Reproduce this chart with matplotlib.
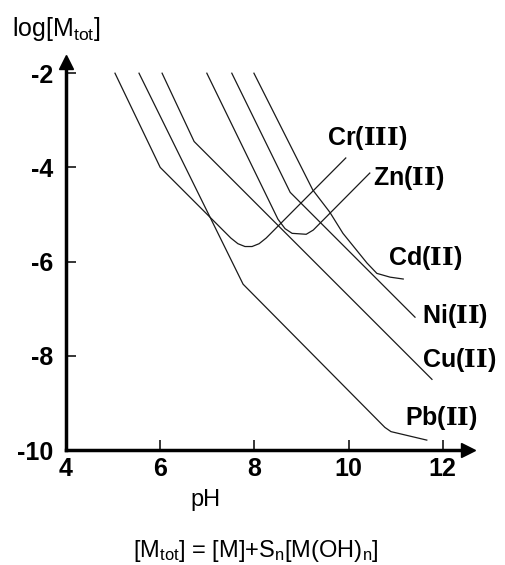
import matplotlib
matplotlib.use("Agg")
import matplotlib.pyplot as plt

plt.rcParams['font.family'] = ['Liberation Sans', 'DejaVu Sans']
plt.rcParams['mathtext.fontset'] = 'custom'
plt.rcParams['mathtext.rm'] = 'Liberation Sans'
plt.rcParams['mathtext.it'] = 'Liberation Sans'
# roman numerals with serifs, as in the original labels
plt.rcParams['mathtext.sf'] = 'DejaVu Serif:bold'

# solubility curves: pH vs log[M_tot]
cr_ph = [5.04, 6.0, 7.5, 7.65, 7.8, 7.95, 8.1, 8.25, 9.94]
cr_log = [-2.0, -4.0, -5.5, -5.62, -5.68, -5.68, -5.62, -5.5, -3.8]

pb_ph = [5.55, 7.76, 10.77, 10.9, 11.66]
pb_log = [-2.0, -6.48, -9.52, -9.61, -9.79]

cu_ph = [6.04, 6.72, 11.77]
cu_log = [-2.0, -3.45, -8.5]

zn_ph = [6.99, 8.5, 8.65, 8.8, 9.1, 9.25, 10.45]
zn_log = [-2.0, -5.1, -5.3, -5.4, -5.42, -5.33, -4.12]

ni_ph = [7.52, 8.76, 11.41]
ni_log = [-2.0, -4.53, -7.18]

cd_ph = [7.99, 9.24, 9.6, 9.88, 10.39, 10.6, 10.88, 11.16]
cd_log = [-2.0, -4.48, -4.95, -5.4, -6.03, -6.25, -6.33, -6.37]

labels = [r'Cr($\mathsf{III}$)', r'Zn($\mathsf{II}$)', r'Cd($\mathsf{II}$)',
          r'Ni($\mathsf{II}$)', r'Cu($\mathsf{II}$)', r'Pb($\mathsf{II}$)']
label_ph = [9.54, 10.52, 10.84, 11.56, 11.56, 11.20]
label_log = [-3.38, -4.23, -5.93, -7.16, -8.09, -9.32]

x_ticks = [4, 6, 8, 10, 12]
y_ticks = [-2, -4, -6, -8, -10]

W, H = 505, 565
fig = plt.figure(figsize=(W / 100, H / 100), dpi=100)
# frame in pixels: x 66..468, y 62..450, 47.1 px per unit
ax = fig.add_axes([66 / W, 1 - 450 / H, (468 - 66) / W, (450 - 62) / H])
ax.set_xlim(4, 4 + (468 - 66) / 47.1)
ax.set_ylim(-10, -10 + (450 - 62) / 47.1)

for xs, ys in [(cr_ph, cr_log), (pb_ph, pb_log), (cu_ph, cu_log),
               (zn_ph, zn_log), (ni_ph, ni_log), (cd_ph, cd_log)]:
    ax.plot(xs, ys, color='#1a1a1a', lw=0.9, solid_joinstyle='round')

for lab, x, y in zip(labels, label_ph, label_log):
    ax.text(x, y, lab, fontsize=18, fontweight='bold', ha='left', va='center',
            clip_on=False)

for s in ['top', 'right']:
    ax.spines[s].set_visible(False)
for s in ['left', 'bottom']:
    ax.spines[s].set_linewidth(2.5)
ax.plot([0], [1], marker='^', ms=10, color='black', transform=ax.transAxes,
        clip_on=False)
ax.plot([1], [0], marker='>', ms=10, color='black', transform=ax.transAxes,
        clip_on=False)

ax.set_xticks(x_ticks)
ax.set_yticks(y_ticks)
ax.set_xticklabels([str(v) for v in x_ticks])
ax.set_yticklabels([str(v) for v in y_ticks])
ax.tick_params(direction='in', length=7.5, width=1.1, labelsize=18, pad=5)
ax.tick_params(axis='y', pad=9)
for t in ax.get_xticklabels() + ax.get_yticklabels():
    t.set_fontweight('bold')

fig.text(12 / W, 1 - 29 / H, r'log[M$_{\mathrm{tot}}$]', fontsize=18,
         ha='left', va='center')
fig.text(206 / W, 1 - 500 / H, 'pH', fontsize=17, ha='center', va='center')
fig.text(256 / W, 1 - 551 / H,
         r'[M$_{\mathrm{tot}}$] = [M]+S$_{\mathrm{n}}$[M(OH)$_{\mathrm{n}}$]',
         fontsize=17, ha='center', va='center')

fig.savefig('out.png', dpi=100)
